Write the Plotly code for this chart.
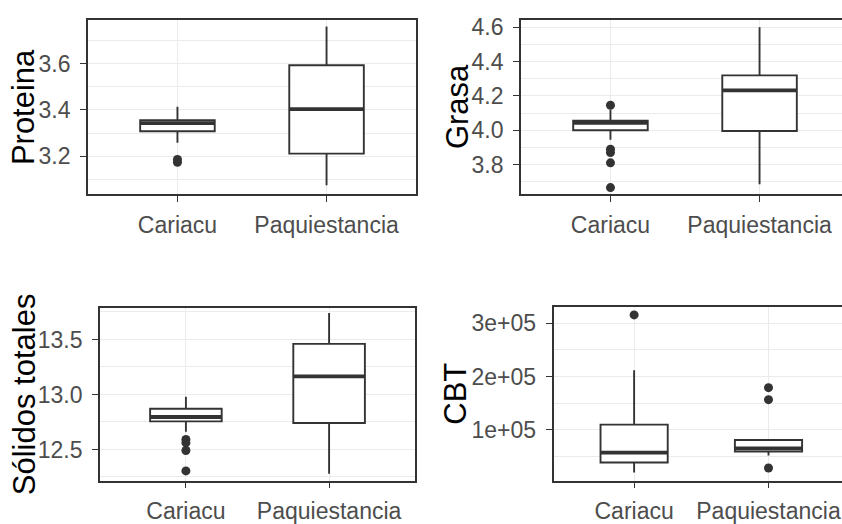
import plotly.graph_objects as go

categories = ["Cariacu", "Paquiestancia"]

# Proteina
prot_q1 = [3.308, 3.211]
prot_median = [3.343, 3.403]
prot_q3 = [3.355, 3.593]
prot_lower = [3.258, 3.075]
prot_upper = [3.414, 3.760]
prot_out_cat = ["Cariacu", "Cariacu"]
prot_out_val = [3.174, 3.186]

# Grasa
gras_q1 = [4.000, 3.996]
gras_median = [4.043, 4.233]
gras_q3 = [4.056, 4.320]
gras_lower = [3.945, 3.685]
gras_upper = [4.120, 4.600]
gras_out_cat = ["Cariacu", "Cariacu", "Cariacu", "Cariacu", "Cariacu"]
gras_out_val = [4.146, 3.890, 3.870, 3.810, 3.666]

# Sólidos totales
sol_q1 = [12.755, 12.740]
sol_median = [12.795, 13.165]
sol_q3 = [12.870, 13.460]
sol_lower = [12.660, 12.280]
sol_upper = [12.980, 13.740]
sol_out_cat = ["Cariacu", "Cariacu", "Cariacu", "Cariacu"]
sol_out_val = [12.590, 12.560, 12.490, 12.305]

# CBT
cbt_q1 = [38200, 58700]
cbt_median = [56800, 64500]
cbt_q3 = [109500, 80500]
cbt_lower = [19600, 51300]
cbt_upper = [212000, 80500]
cbt_out_cat = ["Cariacu", "Paquiestancia", "Paquiestancia", "Paquiestancia"]
cbt_out_val = [316000, 179000, 156500, 27800]

# axis ticks
prot_ticks = [3.2, 3.4, 3.6]
gras_ticks = [3.8, 4.0, 4.2, 4.4, 4.6]
sol_ticks = [12.5, 13.0, 13.5]
cbt_ticks = [100000, 200000, 300000]
cbt_ticktext = ["1e+05", "2e+05", "3e+05"]

titles = ["Proteina", "Grasa", "Sólidos totales", "CBT"]

W, H = 842, 524
BOX_W = 0.5
LINE = "#333333"
GRID = "#EBEBEB"
TICKC = "#4D4D4D"
TICKFONT = dict(family="Liberation Sans, Arial", size=23, color=TICKC)
TITLEFONT = dict(family="Liberation Sans, Arial", size=31, color="#000000")

panels = [
    dict(q1=prot_q1, med=prot_median, q3=prot_q3, lo=prot_lower, hi=prot_upper,
         oc=prot_out_cat, ov=prot_out_val, ticks=prot_ticks, ticktext=None, minor=0.1,
         px=(88, 416), py=(15, 192), yr=(3.035, 3.789), xr=(-0.6, 1.6), title_x=23, right=True),
    dict(q1=gras_q1, med=gras_median, q3=gras_q3, lo=gras_lower, hi=gras_upper,
         oc=gras_out_cat, ov=gras_out_val, ticks=gras_ticks, ticktext=None, minor=0.1,
         px=(521, 842), py=(15, 192), yr=(3.626, 4.644), xr=(-0.6, 1.553), title_x=457, right=False),
    dict(q1=sol_q1, med=sol_median, q3=sol_q3, lo=sol_lower, hi=sol_upper,
         oc=sol_out_cat, ov=sol_out_val, ticks=sol_ticks, ticktext=None, minor=0.25,
         px=(100, 415), py=(307, 482), yr=(12.217, 13.787), xr=(-0.6, 1.6), title_x=24, right=True),
    dict(q1=cbt_q1, med=cbt_median, q3=cbt_q3, lo=cbt_lower, hi=cbt_upper,
         oc=cbt_out_cat, ov=cbt_out_val, ticks=cbt_ticks, ticktext=cbt_ticktext, minor=50000,
         px=(553.5, 842), py=(306, 482), yr=(4200, 331000), xr=(-0.6, 1.547), title_x=456, right=False),
]

fig = go.Figure()
cat_pos = {c: i for i, c in enumerate(categories)}

layout = dict(width=W, height=H, margin=dict(l=0, r=0, t=0, b=0),
              paper_bgcolor="white", plot_bgcolor="white", showlegend=False)
annotations = []

for k, p in enumerate(panels):
    n = "" if k == 0 else str(k + 1)
    xa, ya = "x" + n, "y" + n
    pos = list(range(len(categories)))
    fig.add_trace(go.Box(
        x=pos, q1=p["q1"], median=p["med"], q3=p["q3"],
        lowerfence=p["lo"], upperfence=p["hi"],
        width=BOX_W, whiskerwidth=0, fillcolor="white",
        line=dict(color=LINE, width=1.9), boxpoints=False,
        xaxis=xa, yaxis=ya, hoverinfo="skip"))
    # thick median lines (ggplot fatten)
    mx, my = [], []
    for i, m in enumerate(p["med"]):
        mx += [i - BOX_W / 2, i + BOX_W / 2, None]
        my += [m, m, None]
    fig.add_trace(go.Scatter(x=mx, y=my, mode="lines", line=dict(color=LINE, width=3.8),
                             xaxis=xa, yaxis=ya, hoverinfo="skip"))
    fig.add_trace(go.Scatter(x=[cat_pos[c] for c in p["oc"]], y=p["ov"], mode="markers",
                             marker=dict(color=LINE, size=9), xaxis=xa, yaxis=ya, hoverinfo="skip"))

    xdom = [p["px"][0] / W, p["px"][1] / W]
    ydom = [1 - p["py"][1] / H, 1 - p["py"][0] / H]
    layout["xaxis" + n] = dict(
        domain=xdom, anchor=ya, range=list(p["xr"]),
        tickmode="array", tickvals=pos, ticktext=categories,
        showgrid=True, gridcolor=GRID, gridwidth=1.1, zeroline=False,
        showline=True, linecolor=LINE, linewidth=1.7, mirror=True,
        ticks="outside", ticklen=6, tickcolor=LINE, tickwidth=1.3,
        tickfont=TICKFONT, ticklabelstandoff=3, ticklabeloverflow="allow")
    yax = dict(
        domain=ydom, anchor=xa, range=list(p["yr"]),
        tickmode="array", tickvals=p["ticks"],
        showgrid=True, gridcolor=GRID, gridwidth=1.1, zeroline=False,
        showline=True, linecolor=LINE, linewidth=1.7, mirror=p["right"],
        ticks="outside", ticklen=6, tickcolor=LINE, tickwidth=1.3,
        tickfont=TICKFONT, ticklabelstandoff=5, ticklabeloverflow="allow",
        minor=dict(dtick=p["minor"], tick0=0, showgrid=True, gridcolor=GRID, gridwidth=0.6, ticks=""))
    if p["ticktext"] is not None:
        yax["ticktext"] = p["ticktext"]
    else:
        yax["ticktext"] = [f"{v:.1f}" for v in p["ticks"]]
    layout["yaxis" + n] = yax

    annotations.append(dict(text=titles[k], xref="paper", yref="paper",
                            x=p["title_x"] / W, y=1 - (p["py"][0] + p["py"][1]) / 2 / H,
                            xanchor="center", yanchor="middle", textangle=-90,
                            showarrow=False, font=TITLEFONT))

layout["annotations"] = annotations
fig.update_layout(**layout)
fig.write_html("out.html")
